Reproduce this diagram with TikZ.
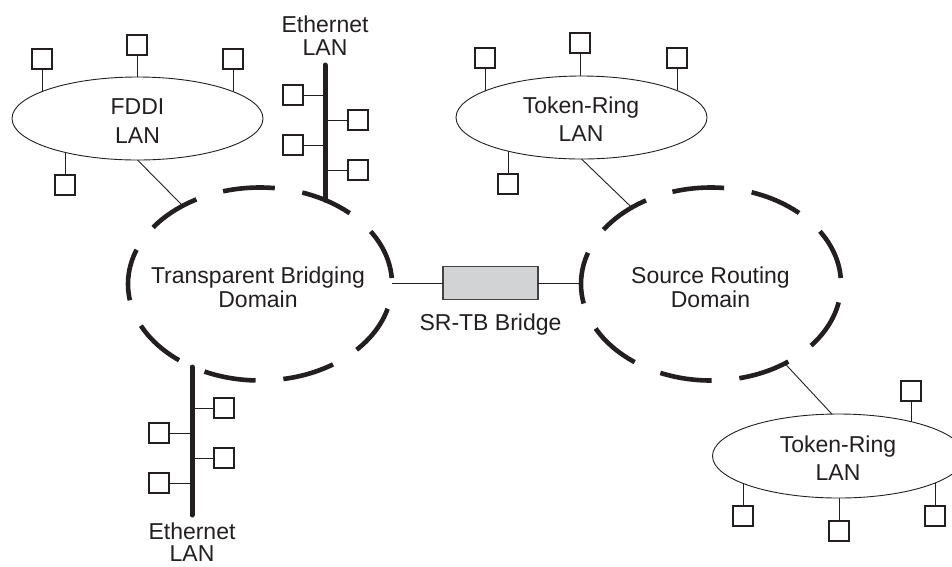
\documentclass[tikz,border=0pt]{standalone}
\usepackage{fontspec}
\setmainfont{Liberation Sans}
\usetikzlibrary{shapes.geometric}
\definecolor{ink}{RGB}{35,31,32}
\definecolor{bridgegray}{RGB}{209,211,212}
\begin{document}
\begin{tikzpicture}[x=1pt,y=-1pt,
  lanring/.style={ellipse,draw=ink,line width=0.9pt,inner sep=0pt,outer sep=0pt},
  domainring/.style={ellipse,draw=ink,line width=4.6pt,dash pattern=on 52pt off 27.87pt,dash phase=73.87pt,inner sep=0pt,outer sep=0pt},
  stationbox/.style={draw=ink,line width=1.1pt,minimum size=20pt,inner sep=0pt,outer sep=0pt},
  thinwire/.style={draw=ink,line width=0.9pt},
  busbar/.style={draw=ink,line width=5pt,line cap=round},
  plainlabel/.style={text=ink,align=center,inner sep=0pt,font=\fontsize{23}{23}\selectfont},
  lanlabel/.style={text=ink,align=center,inner sep=0pt,font=\fontsize{23}{28.7}\selectfont},
]
\path[use as bounding box,clip] (0,0) rectangle (952,566);

% domains
\node[domainring,minimum width=264pt,minimum height=193pt] (tb) at (260,284) {};
\node[domainring,minimum width=260pt,minimum height=193pt] (sr) at (711,284) {};
\node[plainlabel,font=\fontsize{23}{24}\selectfont] (tbtext) at (258,286.8) {Transparent Bridging\\Domain};
\node[plainlabel,font=\fontsize{23}{24}\selectfont] (srtext) at (710.5,286.8) {Source Routing\\Domain};

% FDDI LAN
\node[lanring,minimum width=251pt,minimum height=83pt] (fddi) at (137.5,118.5) {};
\node[lanlabel] (fdditext) at (137.5,121) {FDDI\\LAN};
\node[stationbox] (f1) at (42,59) {};
\node[stationbox] (f2) at (137,45) {};
\node[stationbox] (f3) at (233,59) {};
\node[stationbox] (f4) at (65,185) {};
\draw[thinwire] (f1.south) -- (f1.south |- fddi.164);
\draw[thinwire] (f2.south) -- (f2.south |- fddi.north);
\draw[thinwire] (f3.south) -- (f3.south |- fddi.16);
\draw[thinwire] (f4.north) -- (f4.north |- fddi.205);

% Token-Ring top
\node[lanring,minimum width=251pt,minimum height=83pt] (trtop) at (581.5,117.5) {};
\node[lanlabel] (trtoptext) at (581,119.3) {Token-Ring\\LAN};
\node[stationbox] (t1) at (485,58) {};
\node[stationbox] (t2) at (580,43) {};
\node[stationbox] (t3) at (677,58) {};
\node[stationbox] (t4) at (508,184) {};
\draw[thinwire] (t1.south) -- (t1.south |- trtop.165);
\draw[thinwire] (t2.south) -- (t2.south |- trtop.north);
\draw[thinwire] (t3.south) -- (t3.south |- trtop.16);
\draw[thinwire] (t4.north) -- (t4.north |- trtop.205);

% Token-Ring bottom right
\node[lanring,minimum width=252pt,minimum height=84pt] (trbot) at (838.5,456) {};
\node[lanlabel] (trbottext) at (838,458.3) {Token-Ring\\LAN};
\node[stationbox] (r1) at (911,391) {};
\node[stationbox] (r2) at (743,516) {};
\node[stationbox] (r3) at (839,531) {};
\node[stationbox] (r4) at (935,516) {};
\draw[thinwire] (r1.south) -- (r1.south |- trbot.25);
\draw[thinwire] (r2.north) -- (r2.north |- trbot.196);
\draw[thinwire] (r3.north) -- (r3.north |- trbot.south);
\draw[thinwire] (r4.north) -- (r4.north |- trbot.344);

% Ethernet top
\coordinate (e1top) at (325,65);
\draw[busbar] (e1top) -- (e1top |- tb.52);
\node[plainlabel] (e1text) at (325,35.25) {Ethernet\\LAN};
\node[stationbox] (et1) at (293,95) {};
\node[stationbox] (et2) at (358,120) {};
\node[stationbox] (et3) at (293,145) {};
\node[stationbox] (et4) at (358,170) {};
\draw[thinwire] (et1.east) -- (et1.east -| e1top);
\draw[thinwire] (et2.west) -- (et2.west -| e1top);
\draw[thinwire] (et3.east) -- (et3.east -| e1top);
\draw[thinwire] (et4.west) -- (et4.west -| e1top);

% Ethernet bottom
\coordinate (e2bot) at (192,515);
\draw[busbar] (e2bot |- tb.231) -- (e2bot);
\node[plainlabel,font=\fontsize{23}{22}\selectfont] (e2text) at (192,542) {Ethernet\\LAN};
\node[stationbox] (eb1) at (224,408) {};
\node[stationbox] (eb2) at (159,433) {};
\node[stationbox] (eb3) at (224,458) {};
\node[stationbox] (eb4) at (159,483) {};
\draw[thinwire] (eb1.west) -- (eb1.west -| e2bot);
\draw[thinwire] (eb2.east) -- (eb2.east -| e2bot);
\draw[thinwire] (eb3.west) -- (eb3.west -| e2bot);
\draw[thinwire] (eb4.east) -- (eb4.east -| e2bot);

% bridge
\node[draw=ink!85,fill=bridgegray,line width=1.1pt,minimum width=95pt,minimum height=33pt,inner sep=0pt,outer sep=0pt] (br) at (490.5,283) {};
\draw[thinwire] (br.west) -- (br.west -| tb.east);
\draw[thinwire] (br.east) -- (br.east -| sr.west);
\node[plainlabel,anchor=base] (brtext) at (490.5,330) {SR-TB Bridge};

% links
\draw[thinwire] (fddi.south) -- (tb);
\draw[thinwire] (trtop.south) -- (sr);
\draw[thinwire] (trbot.99) -- (sr);
\end{tikzpicture}
\end{document}
